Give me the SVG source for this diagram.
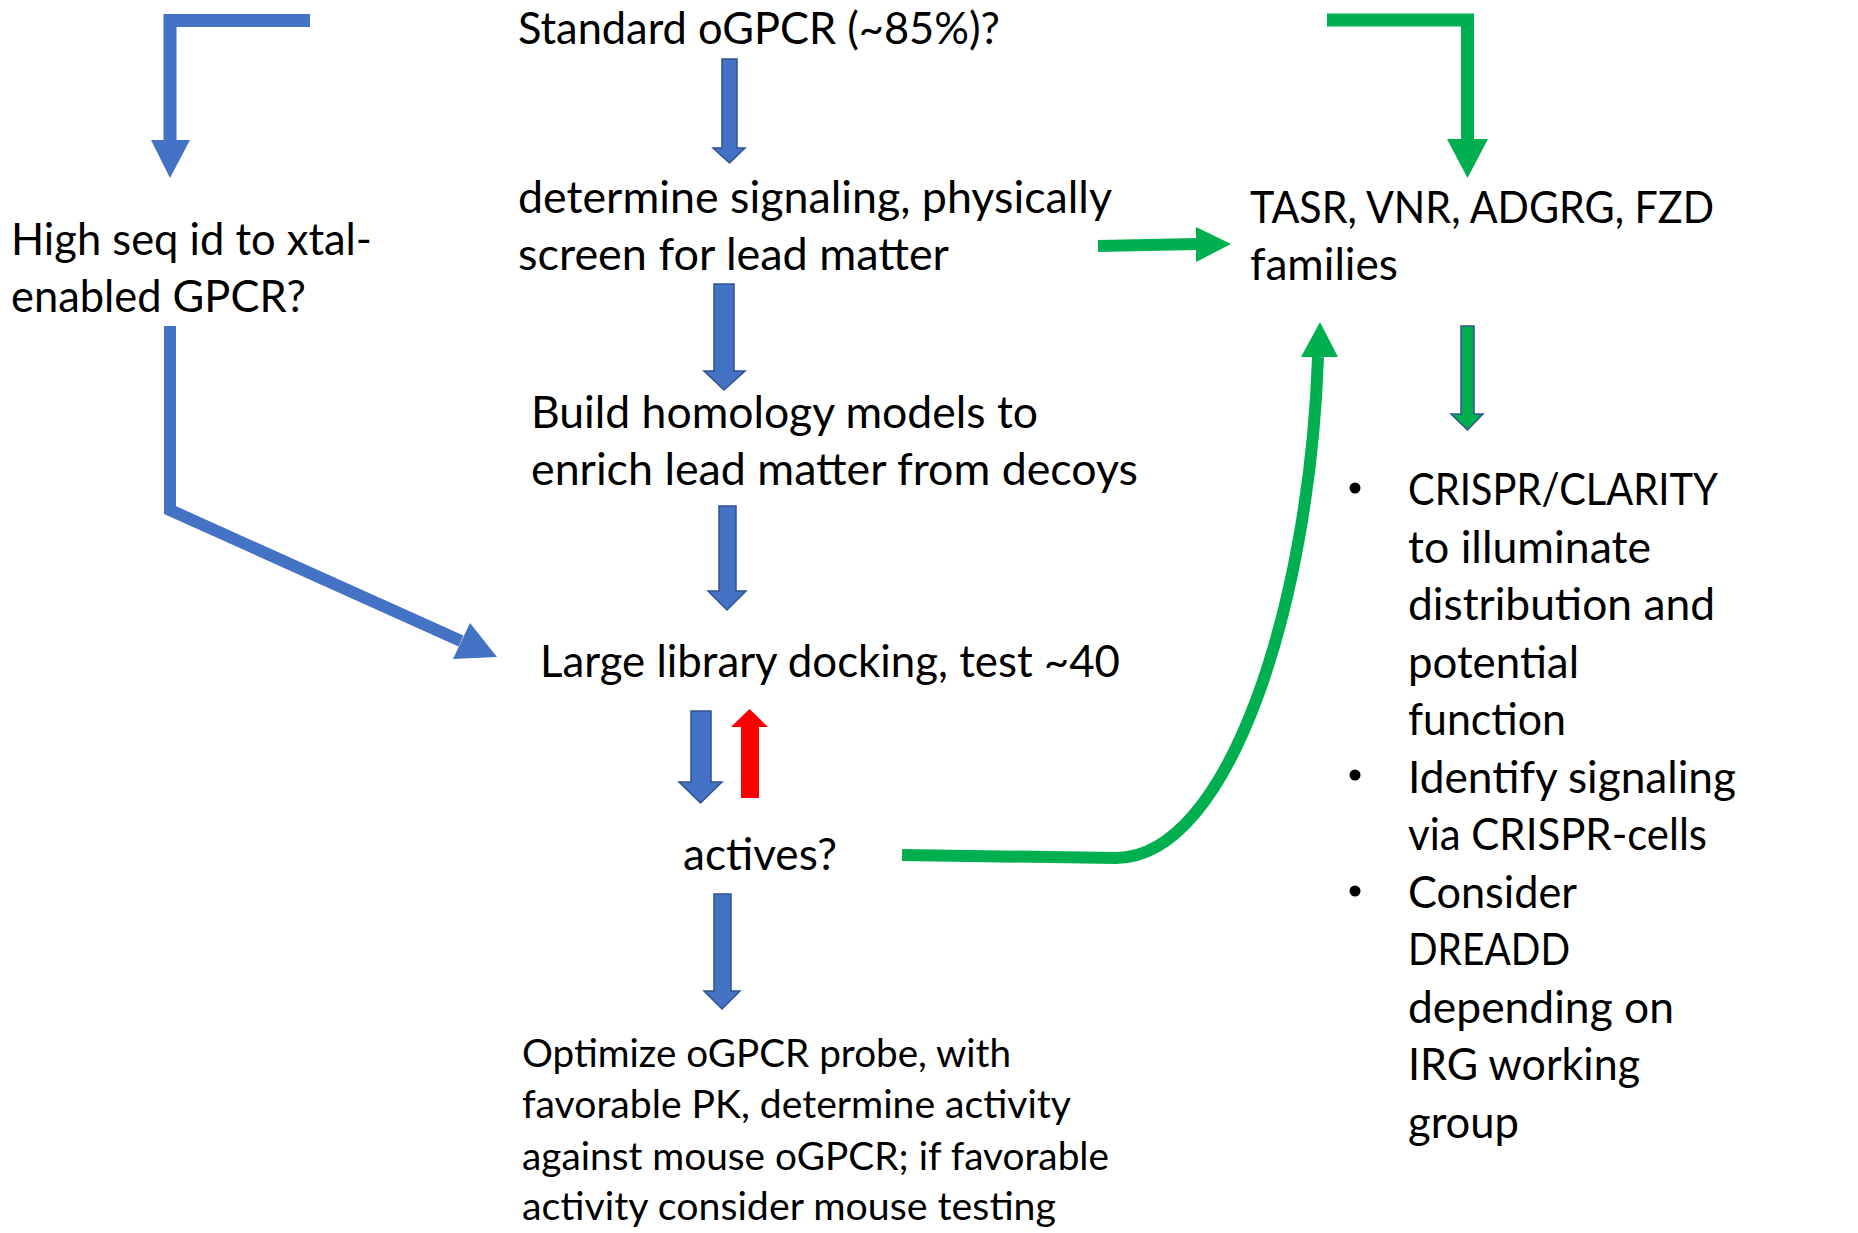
<svg xmlns="http://www.w3.org/2000/svg" width="1858" height="1233" viewBox="0 0 1858 1233">
  <style>
    .t { font-family: Lato, "Open Sans", "Liberation Sans", sans-serif; font-size: 44.5px; fill: #000; }
    .s { font-size: 39px; }
    .blueLine { fill: none; stroke: #4472C4; stroke-width: 13; stroke-linejoin: miter; }
    .greenLine { fill: none; stroke: #00B050; stroke-width: 12; }
    .blueFill { fill: #4472C4; }
    .greenFill { fill: #00B050; }
    .block { fill: #4472C4; stroke: #2F528F; stroke-width: 1.5; stroke-linejoin: miter; }
    .blockGreen { fill: #00B050; stroke: #2F528F; stroke-width: 1.5; stroke-linejoin: miter; }
    .redBlock { fill: #FF0000; }
  </style>
  <rect width="1858" height="1233" fill="#ffffff"/>

  <g id="connectors">
    <!-- elbow from the top bar down to the sequence-identity question -->
    <path class="blueLine" d="M310 20.5 H170 V140"/>
    <polygon class="blueFill" points="151,140 190,140 170,178"/>

    <!-- elbow from the top bar down to the families box -->
    <path class="greenLine" style="stroke-width:13" d="M1327 20 H1467.5 V139"/>
    <polygon class="greenFill" points="1447,139 1488,139 1467.5,178"/>

    <!-- block arrows of the main column -->
    <polygon class="block" points="722,59 737,59 737,148 745,148 729.5,163 713,148 722,148"/>
    <polygon class="block" points="714,284 734,284 734,371 745,371 724,390 704,371 714,371"/>
    <polygon class="block" points="719,506 736,506 736,591 746,591 727,610 708,591 719,591"/>
    <polygon class="block" points="691,711 711,711 711,782 722,782 700.5,803 679,782 691,782"/>
    <polygon class="redBlock" points="741,798 759,798 759,727 768,727 749.5,709 731,727 741,727"/>
    <polygon class="block" points="714,894 731,894 731,991 740,991 722,1009 704,991 714,991"/>

    <!-- high sequence identity shortcut to docking -->
    <path class="blueLine" style="stroke-width:12" d="M170 326 V510 L461 641"/>
    <polygon class="blueFill" points="453,659 470,623 497,657"/>

    <!-- signaling screen to families -->
    <path class="greenLine" d="M1098 246 L1198 244"/>
    <polygon class="greenFill" points="1196,227 1196,262 1231,244"/>

    <!-- actives back up to families -->
    <path class="greenLine" d="M902 855 L1116 858 C1230 858 1310 600 1318 357"/>
    <polygon class="greenFill" points="1301,357 1338,357 1320,322"/>

    <!-- families down to the follow-up list -->
    <polygon class="blockGreen" points="1461,326 1474,326 1474,414 1483,414 1467.5,430 1451,414 1461,414"/>
  </g>

  <g id="node-standard">
    <text class="t" x="518" y="44" textLength="482" lengthAdjust="spacingAndGlyphs">Standard oGPCR (~85%)?</text>
  </g>

  <g id="node-high-seq-id">
    <text class="t" x="11" y="255" textLength="361" lengthAdjust="spacingAndGlyphs">High seq id to xtal-</text>
    <text class="t" x="11" y="312" textLength="295" lengthAdjust="spacingAndGlyphs">enabled GPCR?</text>
  </g>

  <g id="node-signaling">
    <text class="t" x="518" y="213" textLength="594" lengthAdjust="spacingAndGlyphs">determine signaling, physically</text>
    <text class="t" x="518" y="270" textLength="431" lengthAdjust="spacingAndGlyphs">screen for lead matter</text>
  </g>

  <g id="node-families">
    <text class="t" x="1250" y="223" textLength="464" lengthAdjust="spacingAndGlyphs">TASR, VNR, ADGRG, FZD</text>
    <text class="t" x="1250" y="280" textLength="148" lengthAdjust="spacingAndGlyphs">families</text>
  </g>

  <g id="node-homology">
    <text class="t" x="531" y="428" textLength="507" lengthAdjust="spacingAndGlyphs">Build homology models to</text>
    <text class="t" x="531" y="485" textLength="607" lengthAdjust="spacingAndGlyphs">enrich lead matter from decoys</text>
  </g>

  <g id="node-docking">
    <text class="t" x="540" y="677" textLength="580" lengthAdjust="spacingAndGlyphs">Large library docking, test ~40</text>
  </g>

  <g id="node-actives">
    <text class="t" x="683" y="870" textLength="154" lengthAdjust="spacingAndGlyphs">actives?</text>
  </g>

  <g id="node-optimize">
    <text class="t s" x="522" y="1067" textLength="489" lengthAdjust="spacingAndGlyphs">Optimize oGPCR probe, with</text>
    <text class="t s" x="522" y="1118" textLength="549" lengthAdjust="spacingAndGlyphs">favorable PK, determine activity</text>
    <text class="t s" x="522" y="1170" textLength="587" lengthAdjust="spacingAndGlyphs">against mouse oGPCR; if favorable</text>
    <text class="t s" x="522" y="1220" textLength="534" lengthAdjust="spacingAndGlyphs">activity consider mouse testing</text>
  </g>

  <g id="node-followup">
    <circle cx="1355" cy="488" r="5.5"/>
    <circle cx="1355" cy="775" r="5.5"/>
    <circle cx="1355" cy="891" r="5.5"/>
    <text class="t" x="1408" y="505" textLength="310" lengthAdjust="spacingAndGlyphs">CRISPR/CLARITY</text>
    <text class="t" x="1408" y="562.5" textLength="243" lengthAdjust="spacingAndGlyphs">to illuminate</text>
    <text class="t" x="1408" y="620" textLength="307" lengthAdjust="spacingAndGlyphs">distribution and</text>
    <text class="t" x="1408" y="677.5" textLength="171" lengthAdjust="spacingAndGlyphs">potential</text>
    <text class="t" x="1408" y="735" textLength="158" lengthAdjust="spacingAndGlyphs">function</text>
    <text class="t" x="1408" y="792.5" textLength="328" lengthAdjust="spacingAndGlyphs">Identify signaling</text>
    <text class="t" x="1408" y="850" textLength="299" lengthAdjust="spacingAndGlyphs">via CRISPR-cells</text>
    <text class="t" x="1408" y="907.5" textLength="169" lengthAdjust="spacingAndGlyphs">Consider</text>
    <text class="t" x="1408" y="965" textLength="162" lengthAdjust="spacingAndGlyphs">DREADD</text>
    <text class="t" x="1408" y="1022.5" textLength="266" lengthAdjust="spacingAndGlyphs">depending on</text>
    <text class="t" x="1408" y="1080" textLength="232" lengthAdjust="spacingAndGlyphs">IRG working</text>
    <text class="t" x="1408" y="1137.5" textLength="111" lengthAdjust="spacingAndGlyphs">group</text>
  </g>
</svg>
